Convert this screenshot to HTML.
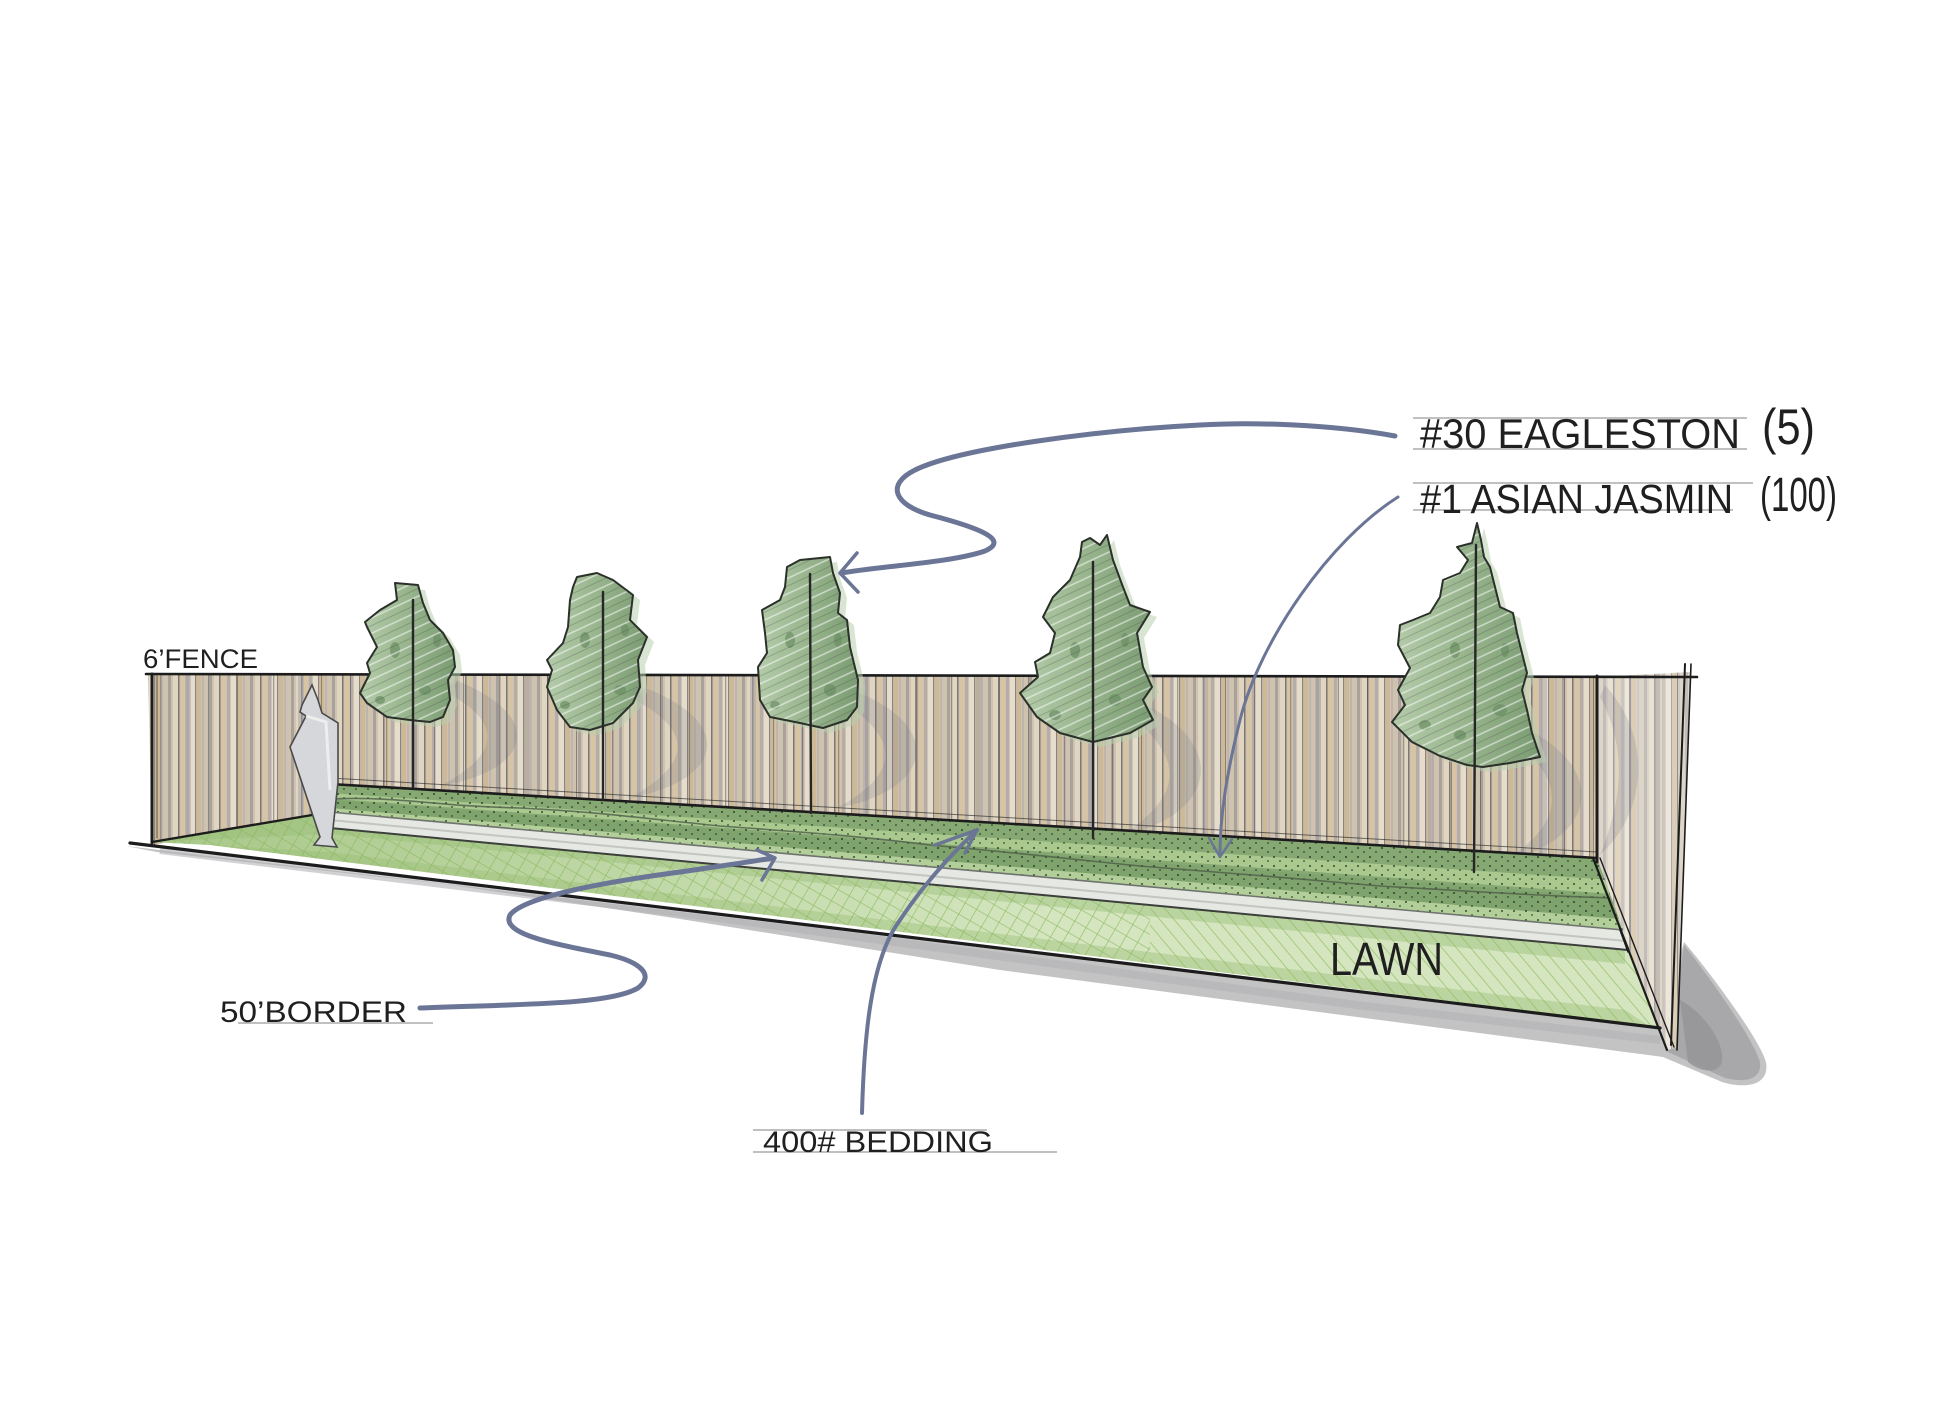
<!DOCTYPE html>
<html><head><meta charset="utf-8"><style>html,body{margin:0;padding:0;background:#fff}svg{display:block}text{font-family:"Liberation Sans",sans-serif;fill:#1f1f1f}</style></head>
<body>
<svg width="1954" height="1402" viewBox="0 0 1954 1402" xmlns="http://www.w3.org/2000/svg">
<defs>
<pattern id="fence" width="41" height="20" patternUnits="userSpaceOnUse">
<rect width="41" height="20" fill="#cfc3b0"/>
<rect x="4" width="3" height="20" fill="#a9a19c"/>
<rect x="9" width="5" height="20" fill="#e0d5c1"/>
<rect x="14" width="1.5" height="20" fill="#7d7672"/>
<rect x="17" width="4" height="20" fill="#d6c4a2"/>
<rect x="22" width="3" height="20" fill="#b4ada9"/>
<rect x="26" width="5" height="20" fill="#e6dccb"/>
<rect x="31" width="1.2" height="20" fill="#8a837e"/>
<rect x="33" width="4" height="20" fill="#cdb996"/>
<rect x="38" width="2" height="20" fill="#bdb5ae"/>
</pattern>
<pattern id="fence2" width="113" height="20" patternUnits="userSpaceOnUse">
<rect x="11" width="1" height="20" fill="#4f4a46" opacity=".55"/>
<rect x="47" width="1.3" height="20" fill="#4f4a46" opacity=".45"/>
<rect x="72" width="6" height="20" fill="#a8a3a8" opacity=".5"/>
<rect x="95" width="1" height="20" fill="#4f4a46" opacity=".5"/>
</pattern>
<pattern id="xhatch" width="13" height="13" patternUnits="userSpaceOnUse" patternTransform="rotate(30)">
<path d="M0,0 L13,0 M0,0 L0,13" stroke="#86b65a" stroke-width="1.3" fill="none"/>
</pattern>
<pattern id="dhatch" width="11" height="11" patternUnits="userSpaceOnUse" patternTransform="rotate(-40)">
<path d="M0,0 L0,11" stroke="#8bbb5c" stroke-width="1.4" fill="none"/>
</pattern>
<pattern id="dots" width="12" height="9" patternUnits="userSpaceOnUse">
<circle cx="2" cy="2" r="1" fill="#1d2a1b"/>
<circle cx="8" cy="6" r=".9" fill="#1d2a1b"/>
</pattern>
<pattern id="leaf" width="14" height="14" patternUnits="userSpaceOnUse" patternTransform="rotate(-25)">
<path d="M0,3 L14,3" stroke="#ffffff" stroke-opacity=".55" stroke-width="1.5"/>
<path d="M0,10 L14,10" stroke="#2f3c2d" stroke-opacity=".3" stroke-width=".8"/>
</pattern>
<linearGradient id="crownG" x1="0" y1="0" x2="1" y2="0">
<stop offset="0" stop-color="#b4cbaa"/>
<stop offset=".45" stop-color="#9bb790"/>
<stop offset="1" stop-color="#7b9c73"/>
</linearGradient>
<linearGradient id="lawnLeft" x1="150" y1="0" x2="1050" y2="0" gradientUnits="userSpaceOnUse">
<stop offset="0" stop-color="#95bb72" stop-opacity=".7"/>
<stop offset="1" stop-color="#95bb72" stop-opacity="0"/>
</linearGradient>
<path id="t1" d="M395,583 L418,585 L423,603 L430,620 L443,633 L453,650 L455,667 L448,680 L450,700 L443,717 L430,722 L410,720 L387,717 L367,703 L360,693 L370,673 L367,663 L377,647 L367,627 L365,622 L380,610 L397,600 Z"/>
<path id="t2" d="M577,577 L597,573 L613,580 L633,595 L630,620 L647,637 L638,660 L640,687 L633,703 L613,723 L590,730 L570,727 L557,710 L547,687 L552,670 L547,660 L563,643 L568,627 L570,600 L573,587 Z"/>
<path id="t3" d="M787,567 L800,560 L830,557 L833,573 L840,593 L838,613 L847,620 L850,647 L858,680 L857,707 L847,720 L823,728 L800,723 L770,717 L760,700 L758,667 L767,653 L765,633 L762,610 L780,600 L785,587 Z"/>
<path id="t4" d="M1082,542 L1090,538 L1100,545 L1107,535 L1113,560 L1123,587 L1130,605 L1150,612 L1137,633 L1143,667 L1152,687 L1143,700 L1153,720 L1130,733 L1093,742 L1060,733 L1037,717 L1020,693 L1038,677 L1035,662 L1050,653 L1055,633 L1043,617 L1053,597 L1070,580 L1080,557 Z"/>
<path id="t5" d="M1477,523 L1481,540 L1484,557 L1490,567 L1500,607 L1513,613 L1517,633 L1523,657 L1527,673 L1522,690 L1527,710 L1532,733 L1540,757 L1510,763 L1483,767 L1467,765 L1440,756 L1412,742 L1392,722 L1405,705 L1398,690 L1410,668 L1398,645 L1400,625 L1413,620 L1430,613 L1440,597 L1443,580 L1460,573 L1468,560 L1457,547 L1472,543 Z"/>
<clipPath id="lawnClip"><path d="M152,842 L330,812 L1623,930 L1657,1027 L210,845 Z"/></clipPath>
<clipPath id="bedClip"><path d="M330,785 L1597,858 L1623,930 L330,812 Z"/></clipPath>
</defs>

<rect width="1954" height="1402" fill="#ffffff"/>

<!-- ground shadow -->
<path d="M126,846 L1660,1028 L1684,942 C1700,960 1758,1035 1766,1062 C1770,1086 1745,1089 1722,1082 L1663,1057 L1357,1017 L1000,970 L674,918 L444,884 L157,852 Z" fill="#c3c3c4"/>
<path d="M1684,945 C1700,965 1752,1035 1760,1062 C1762,1080 1745,1083 1725,1078 L1668,1052 Z" fill="#a8a8aa"/>
<path d="M1680,1000 C1700,1010 1725,1040 1722,1062 C1718,1075 1700,1072 1688,1062 Z" fill="#939396" opacity=".8"/>
<path d="M160,850 L674,912 L1357,1005 L1660,1040" fill="none" stroke="#b3b3b5" stroke-width="8" opacity=".6"/>

<!-- back fence -->
<path d="M148,674 L1597,676 L1597,862 L330,790 L330,812 L152,845 Z" fill="url(#fence)"/>
<path d="M148,674 L1597,676 L1597,862 L330,790 L330,812 L152,845 Z" fill="url(#fence2)"/>
<!-- side fence panel -->
<path d="M1597,677 L1690,672 L1676,1048 L1667,1050 L1593,858 Z" fill="url(#fence)"/>
<path d="M1597,677 L1690,672 L1676,1048 L1667,1050 L1593,858 Z" fill="#ffffff" opacity=".3"/>
<path d="M1597,677 L1690,672 L1676,1048 L1667,1050 L1593,858 Z" fill="url(#fence2)"/>

<!-- tree shadows on fence -->
<g fill="#6f7184" opacity=".2">
<path d="M455,680 C545,715 535,770 440,786 C500,755 505,722 445,692 Z"/>
<path d="M645,688 C735,722 725,780 630,798 C690,765 695,732 635,700 Z"/>
<path d="M852,690 C945,725 935,790 837,808 C898,775 903,740 842,702 Z"/>
<path d="M1135,700 C1230,740 1220,815 1120,836 C1182,798 1188,758 1125,712 Z"/>
<path d="M1518,725 C1610,765 1600,840 1502,862 C1565,825 1570,780 1508,737 Z"/>
<path d="M1605,685 C1655,740 1645,815 1600,855 C1622,800 1628,750 1600,697 Z"/>
</g>

<!-- lawn -->
<path d="M152,842 L330,812 L1623,930 L1657,1027 L210,845 Z" fill="#d4e5bf"/>
<g clip-path="url(#lawnClip)">
<path d="M152,842 L330,812 L1625,950 L1625,964 L330,834 Z" fill="#b3cf98" opacity=".8"/>
<path d="M120,840 L330,852 L1625,1010 L1670,1040 L120,870 Z" fill="#bcd5a0"/>
<rect x="120" y="780" width="1000" height="300" fill="url(#lawnLeft)"/>
<rect x="120" y="780" width="1030" height="300" fill="url(#xhatch)" opacity=".85"/>
<rect x="1150" y="780" width="550" height="300" fill="url(#dhatch)" opacity=".9"/>
</g>

<!-- bed -->
<g clip-path="url(#bedClip)">
<path d="M330,780 L1640,855 L1640,940 L330,815 Z" fill="#86a872"/>
<path d="M330,793.1 L1625,880.8 L1625,895 L330,798.5 Z" fill="#a9c98f"/>
<path d="M330,799.9 L1625,898.4 L1625,919.5 L330,808 Z" fill="#7fa36c"/>
<path d="M330,808 L1625,919.5 L1625,935 L330,815 Z" fill="#b3cf99"/>
<rect x="320" y="770" width="1320" height="180" fill="url(#dots)" opacity=".8"/>
</g>
<path d="M330,799 C400,796 430,806 520,808 C600,812 640,818 720,826 C800,832 860,836 930,845 C1010,852 1060,858 1140,866 C1230,873 1290,878 1380,886 C1450,890 1520,895 1610,898" fill="none" stroke="#4e5d49" stroke-width="1.6" opacity=".8"/>

<!-- curb -->
<path d="M330,812 L1623,930 L1628,950 L330,828 Z" fill="#e6e9e3"/>
<path d="M330,820 L1626,941" stroke="#c2c6c0" stroke-width="2"/>
<path d="M330,812 L1623,930" stroke="#6f736d" stroke-width="1.6"/>
<path d="M330,828 L1628,950" stroke="#3c3f3b" stroke-width="2"/>

<!-- structure lines -->
<g stroke="#1c1c1c" fill="none" stroke-linecap="round">
<path d="M146,674 L1697,677" stroke-width="2.6"/>
<path d="M152,674 L152,843" stroke-width="3"/>
<path d="M157,676 L157,838" stroke-width="1" opacity=".6"/>
<path d="M130,843 L1660,1028" stroke-width="3.2"/>
<path d="M152,842 L330,812" stroke-width="2.4"/>
<path d="M330,784 L1597,858" stroke-width="2.6"/>
<path d="M330,778 L1597,852" stroke-width="1" opacity=".6"/>
<path d="M330,785 L330,828" stroke-width="1.5"/>
<path d="M1597,676 L1597,862" stroke-width="3"/>
<path d="M1685,664 L1671,1045" stroke-width="2"/>
<path d="M1691,664 L1677,1050" stroke-width="1.6"/>
<path d="M1593,858 L1667,1050" stroke-width="2.2"/>
<path d="M1600,858 L1674,1047" stroke-width="1.4"/>
<path d="M1620,930 L1628,952" stroke-width="1.5"/>
</g>

<!-- figure -->
<path d="M312,685 L302,705 L300,712 L306,716 L290,747 L320,837 L314,845 L337,847 L332,838 L338,782 L338,723 L322,713 L318,700 Z" fill="#d6d7da" stroke="#4a4a4a" stroke-width="1.6"/>
<path d="M306,716 L326,722 L330,790" stroke="#f4f4f4" stroke-width="3" fill="none" opacity=".8"/>

<!-- trees -->
<g>
<use href="#t1" fill="#b9cfae" opacity=".55" transform="translate(7,5)"/>
<use href="#t2" fill="#b9cfae" opacity=".55" transform="translate(7,5)"/>
<use href="#t3" fill="#b9cfae" opacity=".55" transform="translate(7,5)"/>
<use href="#t4" fill="#b9cfae" opacity=".55" transform="translate(7,5)"/>
<use href="#t5" fill="#b9cfae" opacity=".55" transform="translate(7,5)"/>
<use href="#t1" fill="url(#crownG)"/>
<use href="#t2" fill="url(#crownG)"/>
<use href="#t3" fill="url(#crownG)"/>
<use href="#t4" fill="url(#crownG)"/>
<use href="#t5" fill="url(#crownG)"/>
</g>
<g fill="#6c8f65" opacity=".7">
<ellipse cx="395" cy="650" rx="5" ry="8"/><ellipse cx="425" cy="690" rx="6" ry="5"/><ellipse cx="380" cy="700" rx="5" ry="4"/><ellipse cx="437" cy="640" rx="4" ry="7"/>
<ellipse cx="585" cy="640" rx="5" ry="8"/><ellipse cx="620" cy="690" rx="6" ry="5"/><ellipse cx="565" cy="705" rx="5" ry="4"/><ellipse cx="625" cy="630" rx="4" ry="6"/>
<ellipse cx="790" cy="640" rx="5" ry="8"/><ellipse cx="830" cy="690" rx="6" ry="6"/><ellipse cx="775" cy="705" rx="5" ry="4"/><ellipse cx="838" cy="640" rx="4" ry="7"/>
<ellipse cx="1075" cy="650" rx="5" ry="8"/><ellipse cx="1115" cy="700" rx="6" ry="6"/><ellipse cx="1055" cy="715" rx="6" ry="5"/><ellipse cx="1125" cy="640" rx="4" ry="7"/>
<ellipse cx="1455" cy="650" rx="5" ry="8"/><ellipse cx="1500" cy="710" rx="7" ry="6"/><ellipse cx="1425" cy="725" rx="6" ry="5"/><ellipse cx="1505" cy="650" rx="4" ry="7"/><ellipse cx="1460" cy="735" rx="6" ry="5"/>
</g>
<g>
<use href="#t1" fill="url(#leaf)"/>
<use href="#t2" fill="url(#leaf)"/>
<use href="#t3" fill="url(#leaf)"/>
<use href="#t4" fill="url(#leaf)"/>
<use href="#t5" fill="url(#leaf)"/>
</g>
<g fill="none" stroke="#2b312a" stroke-width="2" stroke-linejoin="round">
<use href="#t1"/><use href="#t2"/><use href="#t3"/><use href="#t4"/><use href="#t5"/>
</g>
<g stroke="#262626" stroke-width="2.4" stroke-linecap="round">
<path d="M413,600 L413,787"/>
<path d="M603,592 L603,800"/>
<path d="M810,574 L811,813"/>
<path d="M1093,562 L1093,838"/>
<path d="M1476,545 L1474,872"/>
</g>

<!-- connectors -->
<g fill="none" stroke="#6b7596" stroke-linecap="round" stroke-linejoin="round">
<path d="M1395,436 C1330,424 1250,422 1200,425 C1100,430 960,448 915,470 C885,485 895,505 930,515 C980,528 1010,540 985,551 C950,563 880,566 842,573" stroke-width="5"/>
<path d="M857,553 L840,573 L858,592" stroke-width="3.5"/>
<path d="M1398,497 C1330,540 1260,640 1240,720 C1225,780 1220,820 1220,855" stroke-width="3"/>
<path d="M1209,838 L1220,857 L1232,839" stroke-width="2.5"/>
<path d="M420,1008 C520,1004 610,1005 638,988 C655,975 640,962 610,955 C560,945 500,935 510,915 C525,895 620,880 680,872 C720,866 750,862 773,858" stroke-width="5"/>
<path d="M757,850 L775,858 L762,880" stroke-width="3.5"/>
<path d="M862,1113 C864,1040 870,960 900,920 C920,890 945,860 977,830" stroke-width="4"/>
<path d="M935,845 L977,830 L965,853" stroke-width="3.5"/>
</g>

<!-- label guide lines -->
<g stroke="#9a9a9a" stroke-width="1.2">
<path d="M1413,418 L1747,418"/>
<path d="M1413,449 L1747,449"/>
<path d="M1413,483 L1753,483"/>
<path d="M1413,510 L1733,510"/>
<path d="M753,1130 L987,1130"/>
<path d="M753,1152 L1057,1152"/>
<path d="M238,1023 L433,1023"/>
</g>

<!-- labels -->
<text x="143" y="668" font-size="27" textLength="115" lengthAdjust="spacingAndGlyphs">6’FENCE</text>
<text x="1420" y="448" font-size="42" textLength="320" lengthAdjust="spacingAndGlyphs">#30 EAGLESTON</text>
<text x="1762" y="444" font-size="50" textLength="53" lengthAdjust="spacingAndGlyphs">(5)</text>
<text x="1420" y="513" font-size="41" textLength="313" lengthAdjust="spacingAndGlyphs">#1 ASIAN JASMIN</text>
<text x="1760" y="511" font-size="48" textLength="77" lengthAdjust="spacingAndGlyphs">(100)</text>
<text x="220" y="1022" font-size="30" textLength="187" lengthAdjust="spacingAndGlyphs">50’BORDER</text>
<text x="763" y="1152" font-size="30" textLength="230" lengthAdjust="spacingAndGlyphs">400# BEDDING</text>
<text x="1330" y="975" font-size="46" textLength="113" lengthAdjust="spacingAndGlyphs">LAWN</text>
</svg>
</body></html>
